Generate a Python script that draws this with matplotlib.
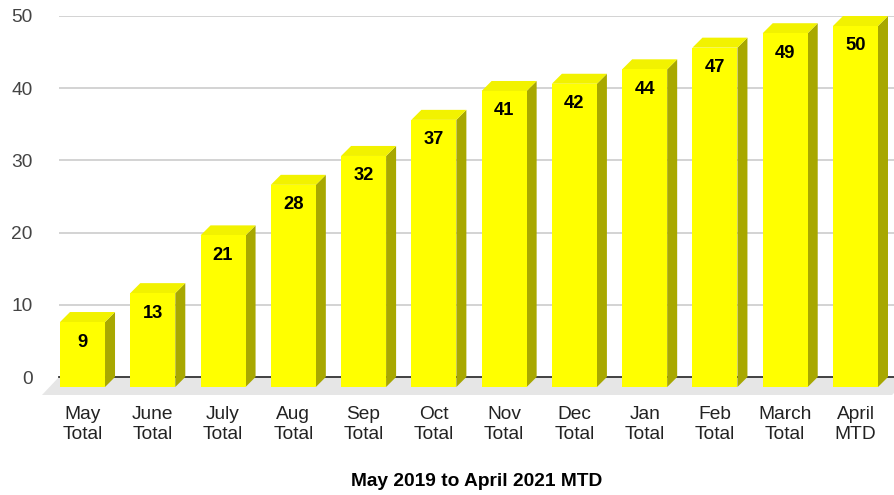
import matplotlib
matplotlib.use("Agg")
import matplotlib.pyplot as plt
from matplotlib.patches import Polygon

plt.rcParams['font.family'] = ['Liberation Sans', 'DejaVu Sans']

categories = ["May\nTotal", "June\nTotal", "July\nTotal", "Aug\nTotal", "Sep\nTotal", "Oct\nTotal",
              "Nov\nTotal", "Dec\nTotal", "Jan\nTotal", "Feb\nTotal", "March\nTotal", "April\nMTD"]
values = [9, 13, 21, 28, 32, 37, 41, 42, 44, 47, 49, 50]
yticks = [0, 10, 20, 30, 40, 50]
xlabel = "May 2019 to April 2021 MTD"

W, H = 895, 495
fig = plt.figure(figsize=(W / 100, H / 100), dpi=100)
ax_left, ax_right, ax_top, ax_bot = 59, 895, 16, 377
ax = fig.add_axes([ax_left / W, (H - ax_bot) / H, (ax_right - ax_left) / W, (ax_bot - ax_top) / H])

xmin, xmax = -0.477, 11.42
ax.set_xlim(xmin, xmax)
ax.set_ylim(0, 50)

pxx = (ax_right - ax_left) / (xmax - xmin)
pxy = (ax_bot - ax_top) / 50.0
depth = 10  # px
ddx = depth / pxx
ddy = depth / pxy
bw = 45 / pxx

for s in ax.spines.values():
    s.set_visible(False)

# gridlines
for t in yticks[1:]:
    ax.axhline(t, color="#cccccc", lw=1.2, zorder=0)

# floor
fdx = 17 / pxx
fdy = 18 / pxy
floor = Polygon([(xmin, 0), (xmax + 0.2, 0), (xmax + 0.2 - fdx, -fdy), (xmin - fdx, -fdy)],
                closed=True, facecolor="#e6e6e6", edgecolor="none", clip_on=False, zorder=1)
ax.add_patch(floor)
ax.plot([xmin, xmax], [0, 0], color="#333333", lw=1.3, zorder=2, clip_on=False)

front_c = "#ffff00"
top_c = "#f2f200"
side_c = "#a8a800"

for i, v in enumerate(values):
    bl, br = i - bw / 2, i + bw / 2
    side = Polygon([(br - ddx, -ddy), (br, 0), (br, v), (br - ddx, v - ddy)],
                   closed=True, facecolor=side_c, edgecolor="none", clip_on=False, zorder=3)
    top = Polygon([(bl - ddx, v - ddy), (bl, v), (br, v), (br - ddx, v - ddy)],
                  closed=True, facecolor=top_c, edgecolor="none", clip_on=False, zorder=3)
    front = Polygon([(bl - ddx, -ddy), (br - ddx, -ddy), (br - ddx, v - ddy), (bl - ddx, v - ddy)],
                    closed=True, facecolor=front_c, edgecolor="none", clip_on=False, zorder=4)
    ax.add_patch(side)
    ax.add_patch(top)
    ax.add_patch(front)
    ax.text(i - ddx, v - ddy - 20 / pxy, str(v), ha="center", va="center",
            fontsize=13.2, fontweight="bold", color="#000000", zorder=5)

ax.set_xticks([i - ddx for i in range(len(values))])
ax.set_xticklabels(categories, fontsize=13.8, color="#222222", linespacing=1.2)
ax.set_yticks(yticks)
ax.set_yticklabels([str(t) for t in yticks], fontsize=13.8, color="#444444")
ax.tick_params(axis="x", length=0, pad=21)
ax.tick_params(axis="y", length=0, pad=19)

fig.text((ax_left + ax_right) / 2 / W, 1 - 481 / H, xlabel, ha="center", va="center",
         fontsize=13.8, fontweight="bold", color="#000000")

fig.savefig("out.png", dpi=100)
